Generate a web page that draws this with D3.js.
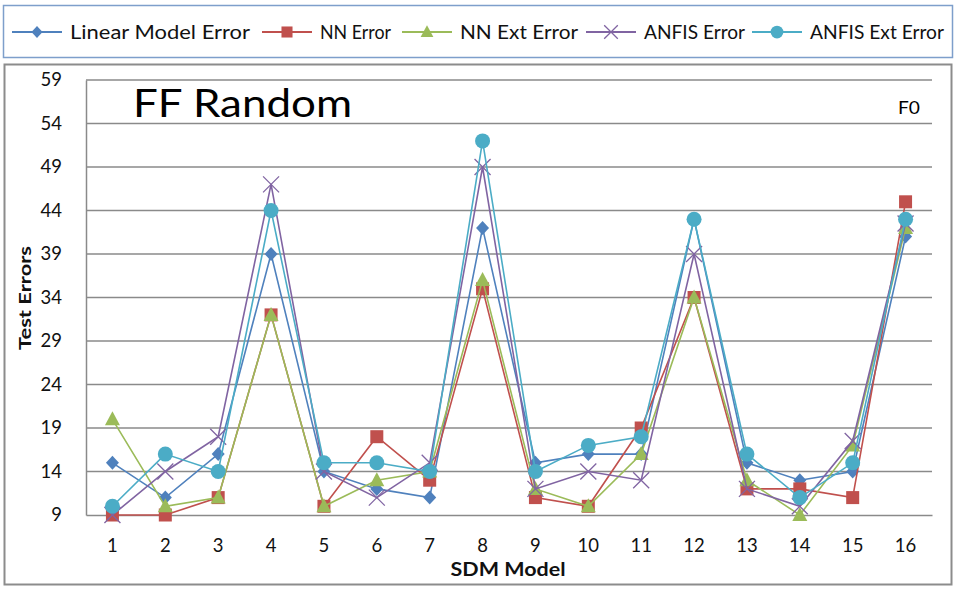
<!DOCTYPE html>
<html>
<head>
<meta charset="utf-8">
<script src="https://cdn.jsdelivr.net/npm/d3@7"></script>
<style>
  html, body { margin: 0; padding: 0; background: #fff; }
  svg { display: block; font-family: Lato, "Liberation Sans", sans-serif; }
</style>
</head>
<body>
<svg id="chart" width="956" height="593"></svg>
<script>
// SDM model indices on the x axis
const models = [1, 2, 3, 4, 5, 6, 7, 8, 9, 10, 11, 12, 13, 14, 15, 16];

// Test errors per SDM model, one array per predictor
const linearModelError = [15, 11, 16, 39, 14, 12, 11, 42, 15, 16, 16, 43, 15, 13, 14, 41];
const nnError          = [9, 9, 11, 32, 10, 18, 13, 35, 11, 10, 19, 34, 12, 12, 11, 45];
const nnExtError       = [20, 10, 11, 32, 10, 13, 14, 36, 12, 10, 16, 34, 13, 9, 17, 42];
const anfisError       = [9, 14, 18, 47, 14, 11, 15, 49, 12, 14, 13, 39, 12, 10, 17.5, 42.5];
const anfisExtError    = [10, 16, 14, 44, 15, 15, 14, 52, 14, 17, 18, 43, 16, 11, 15, 43];

// Y axis tick labels
const yTicks = [9, 14, 19, 24, 29, 34, 39, 44, 49, 54, 59];

const seriesNames  = ["Linear Model Error", "NN Error", "NN Ext Error", "ANFIS Error", "ANFIS Ext Error"];
const seriesColors = ["#4F81BD", "#C0504D", "#9BBB59", "#8064A2", "#4BACC6"];
const seriesShapes = ["diamond", "square", "triangle", "cross", "circle"];
const seriesValues = [linearModelError, nnError, nnExtError, anfisError, anfisExtError];

const series = seriesNames.map((name, i) => ({
  name, color: seriesColors[i], shape: seriesShapes[i], values: seriesValues[i]
}));

const svg = d3.select("#chart");

// Legend frame and chart frame
svg.append("rect").attr("x", 3.5).attr("y", 5.5).attr("width", 949).attr("height", 52)
  .attr("fill", "#fff").attr("stroke", "#7E9FCB").attr("stroke-width", 1.5);
svg.append("rect").attr("x", 4.5).attr("y", 64.5).attr("width", 947).attr("height", 520)
  .attr("fill", "#fff").attr("stroke", "#8C8C8C").attr("stroke-width", 2);

const plot = { left: 86, right: 932, top: 80, bottom: 515 };

const x = d3.scaleBand().domain(models).range([plot.left, plot.right]).paddingInner(0).paddingOuter(0);
const cx = d => x(d) + x.bandwidth() / 2;
const y = d3.scaleLinear().domain([9, 59]).range([plot.bottom, plot.top]);

// Horizontal gridlines
svg.append("g")
  .selectAll("line").data(yTicks.filter(t => t !== 9)).join("line")
  .attr("x1", plot.left).attr("x2", plot.right)
  .attr("y1", d => y(d)).attr("y2", d => y(d))
  .attr("stroke", "#8A8A8A").attr("stroke-width", 1.5);

// Y axis
const yAxis = svg.append("g").attr("transform", `translate(${plot.left},0)`)
  .call(d3.axisLeft(y).tickValues(yTicks).tickSize(0).tickPadding(24));
yAxis.select(".domain").attr("stroke", "#8A8A8A").attr("stroke-width", 1.5);
yAxis.selectAll("text").attr("font-size", 18.5).attr("fill", "#111")
  .attr("font-family", "Lato, sans-serif");

// X axis
const xAxis = svg.append("g").attr("transform", `translate(0,${plot.bottom})`)
  .call(d3.axisBottom(x).tickSize(0).tickPadding(24));
xAxis.select(".domain").attr("stroke", "#8A8A8A").attr("stroke-width", 1.5);
xAxis.selectAll("text").attr("font-size", 18.5).attr("fill", "#111")
  .attr("font-family", "Lato, sans-serif");

// Axis titles
svg.append("text").attr("x", 508).attr("y", 576).attr("text-anchor", "middle")
  .attr("font-size", 18).attr("font-weight", "bold").attr("fill", "#111")
  .attr("textLength", 115).attr("lengthAdjust", "spacingAndGlyphs").text("SDM Model");
svg.append("text").attr("transform", "translate(31,298) rotate(-90)").attr("text-anchor", "middle")
  .attr("font-size", 17).attr("font-weight", "bold").attr("fill", "#111")
  .attr("textLength", 104).attr("lengthAdjust", "spacingAndGlyphs").text("Test Errors");

// Chart annotations
svg.append("text").attr("x", 133).attr("y", 117).attr("font-size", 39).attr("fill", "#000")
  .attr("textLength", 219).attr("lengthAdjust", "spacingAndGlyphs").text("FF Random");
svg.append("text").attr("x", 898).attr("y", 114)
  .attr("font-size", 18).attr("fill", "#000")
  .attr("textLength", 22).attr("lengthAdjust", "spacingAndGlyphs").text("F0");

// Marker drawing helper
function drawMarker(g, shape, color, px, py, scale = 1) {
  const s = scale;
  if (shape === "diamond") {
    g.append("path").attr("d", `M${px},${py - 7 * s}L${px + 6.5 * s},${py}L${px},${py + 7 * s}L${px - 6.5 * s},${py}Z`)
      .attr("fill", color);
  } else if (shape === "square") {
    g.append("rect").attr("x", px - 6.5 * s).attr("y", py - 6.5 * s)
      .attr("width", 13 * s).attr("height", 13 * s).attr("fill", color);
  } else if (shape === "triangle") {
    g.append("path").attr("d", `M${px},${py - 8 * s}L${px + 7.5 * s},${py + 6 * s}L${px - 7.5 * s},${py + 6 * s}Z`)
      .attr("fill", color);
  } else if (shape === "cross") {
    g.append("path").attr("d", `M${px - 8 * s},${py - 8 * s}L${px + 8 * s},${py + 8 * s}M${px + 8 * s},${py - 8 * s}L${px - 8 * s},${py + 8 * s}`)
      .attr("stroke", color).attr("stroke-width", 1.3).attr("fill", "none");
  } else if (shape === "circle") {
    g.append("circle").attr("cx", px).attr("cy", py).attr("r", 7.5 * s).attr("fill", color);
  }
}

// Series lines and markers
const line = d3.line().x((d, i) => cx(models[i])).y(d => y(d));
series.forEach(s => {
  const g = svg.append("g");
  g.append("path").datum(s.values).attr("d", line)
    .attr("fill", "none").attr("stroke", s.color).attr("stroke-width", 1.6);
  s.values.forEach((v, i) => drawMarker(g, s.shape, s.color, cx(models[i]), y(v)));
});

// Legend entries
const legendX = [12, 262, 402, 586, 752];
const legendTextWidths = [180, 71, 118, 101, 134];
series.forEach((s, i) => {
  const g = svg.append("g");
  const lx = legendX[i];
  g.append("line").attr("x1", lx).attr("x2", lx + 50).attr("y1", 32).attr("y2", 32)
    .attr("stroke", s.color).attr("stroke-width", 2);
  drawMarker(g, s.shape, s.color, lx + 25, 32, 0.85);
  g.append("text").attr("x", lx + 58).attr("y", 38.5).attr("font-size", 18.5)
    .attr("fill", "#111")
    .attr("textLength", legendTextWidths[i]).attr("lengthAdjust", "spacingAndGlyphs")
    .text(s.name);
});
</script>
</body>
</html>
